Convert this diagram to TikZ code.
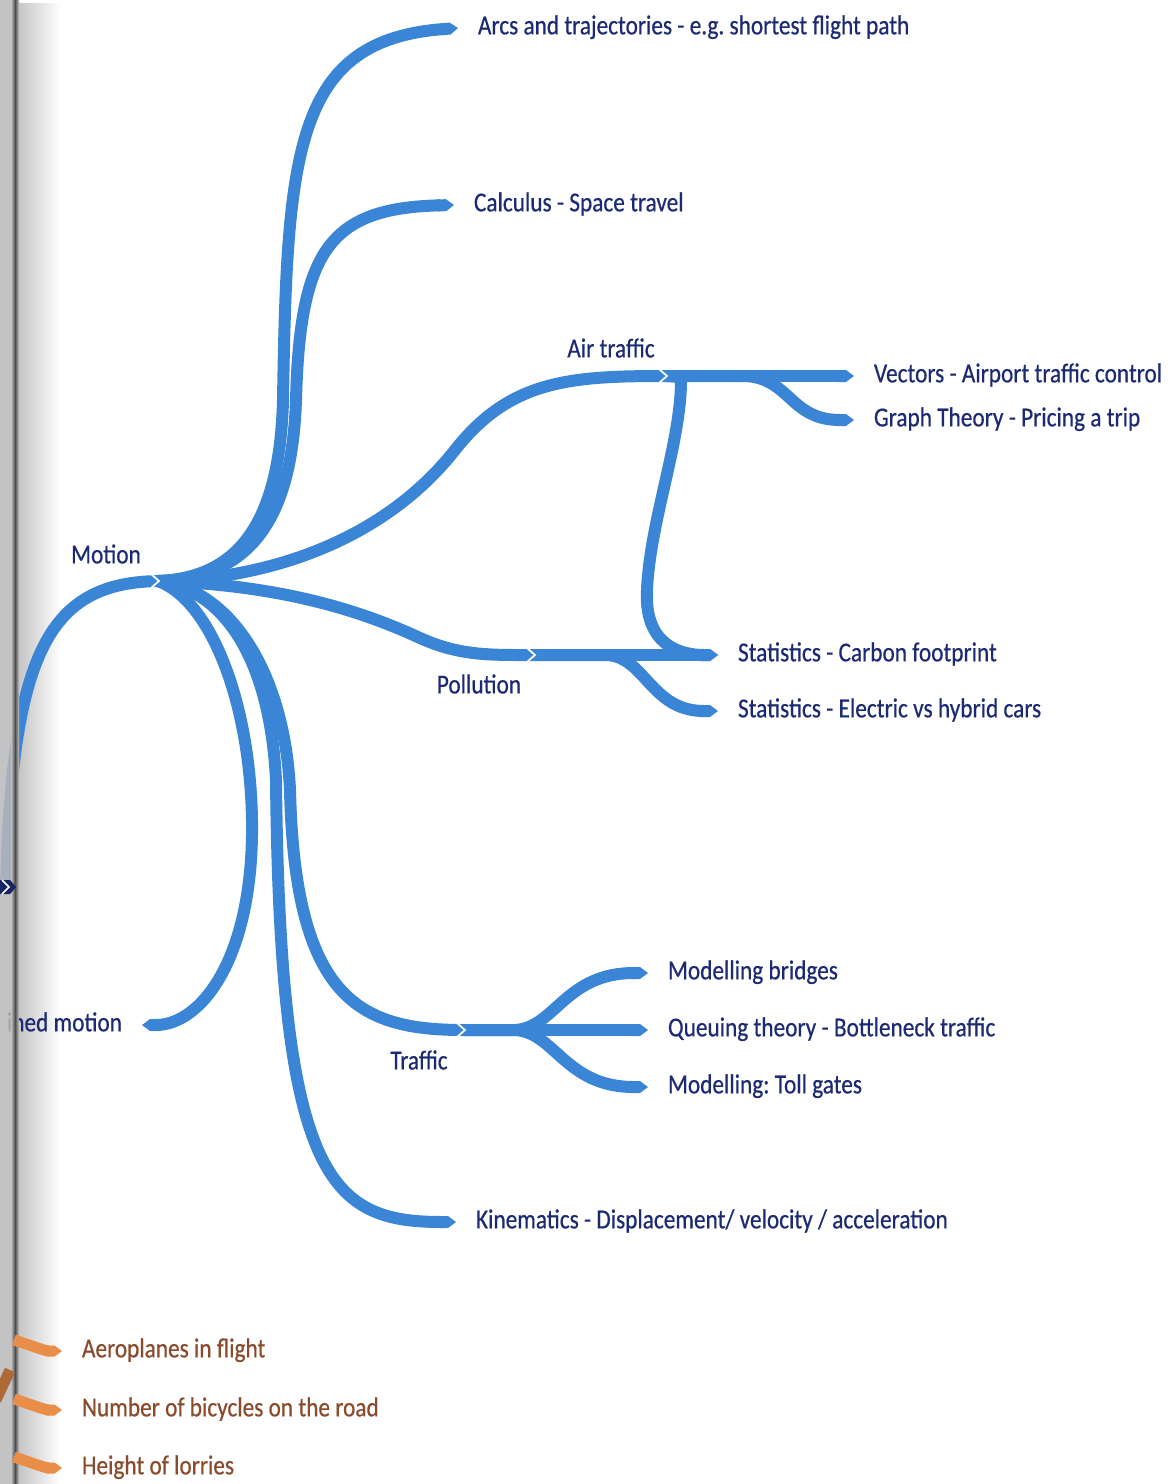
\documentclass[tikz,border=0pt]{standalone}
\usepackage{fontspec}
\setmainfont{Carlito}[FakeStretch=0.85, FakeBold=0.5]
\usetikzlibrary{arrows.meta, fadings}
\definecolor{mapblue}{HTML}{3A85D6}
\definecolor{mapnavy}{HTML}{1C2A74}
\definecolor{maporange}{HTML}{E88E48}
\definecolor{mapbrown}{HTML}{8A4A2C}
\tikzfading[name=gutterfade, left color=transparent!0, right color=transparent!100]
\frenchspacing

\begin{document}
\begin{tikzpicture}[
  x=0.02cm, y=-0.02cm,
  stem/.style={
    draw=mapblue, line width=0.24cm, -{Triangle Cap[length=0.16cm]}
  },
  ostem/.style={
    draw=maporange, line width=0.22cm, -{Triangle Cap[length=0.15cm]}
  },
  notch/.style={draw=white, line width=0.035cm},
  leaf/.style={
    anchor=west, inner sep=0pt, outer xsep=0.4cm, text=mapnavy,
    font=\fontsize{15.6}{18}\selectfont, execute at begin node=\strut
  },
  hub/.style={inner sep=0pt, text=mapnavy, font=\fontsize{15.6}{18}\selectfont},
  oleaf/.style={leaf, text=mapbrown}
]
\useasboundingbox (0,0) rectangle (1168,1484);
\fill[white] (0,0) rectangle (1168,1484);

% Gutter shadow, soft part
\fill[gray!45, path fading=gutterfade] (19,0) rectangle (60,1484);

% Junctions
\coordinate (motionin) at (6,887);
\coordinate (m) at (158,581);
\coordinate (air) at (666,376);
\coordinate (airfork) at (745,376);
\coordinate (airdrop) at (681,377);
\coordinate (poll) at (534,655);
\coordinate (pollfork) at (605,655);
\coordinate (traf) at (464,1030);
\coordinate (trafork) at (515,1030);

% Labels
\node[hub] (motion) at (106,554) {Motion};
\node[hub] (airlbl) at (611,348) {Air traffic};
\node[hub] (polllbl) at (479,684) {Pollution};
\node[hub] (traflbl) at (419,1060) {Traffic};

\node[leaf] (arcs) at (458,28) {Arcs and trajectories - e.g. shortest flight path};
\node[leaf] (calc) at (454,205) {Calculus - Space travel};
\node[leaf] (vect) at (854,376) {Vectors - Airport traffic control};
\node[leaf] (graph) at (854,420) {Graph Theory - Pricing a trip};
\node[leaf] (carb) at (718,655) {Statistics - Carbon footprint};
\node[leaf] (elec) at (718,711) {Statistics - Electric vs hybrid cars};
\node[leaf] (bridg) at (648,973) {Modelling bridges};
\node[leaf] (queu) at (648,1030) {Queuing theory - Bottleneck traffic};
\node[leaf] (toll) at (648,1087) {Modelling: Toll gates};
\node[leaf] (kin) at (456,1222) {Kinematics - Displacement/ velocity / acceleration};
\node[leaf, anchor=east] (conf) at (142,1025) {ined motion};

\node[oleaf] (aero) at (62,1351) {Aeroplanes in flight};
\node[oleaf] (bike) at (62,1410) {Number of bicycles on the road};
\node[oleaf] (lorry) at (62,1468) {Height of lorries};

% Branches out of Motion
\draw[stem] (m) .. controls (240,578) and (280,520) .. (283,400)
  .. controls (287,150) and (295,40) .. (arcs.west);
\draw[stem] (m) .. controls (250,578) and (292,520) .. (296,400)
  .. controls (300,250) and (330,208) .. (calc.west);
\draw[stem] (m) .. controls (210,600) and (250,700) .. (252,820)
  .. controls (254,960) and (200,1025) .. (conf.east);
\draw[stem] (m) .. controls (225,590) and (270,660) .. (276,780)
  .. controls (280,1180) and (330,1222) .. (kin.west);
\draw[stem, -] (m) .. controls (260,580) and (380,545) .. (455,450)
  .. controls (510,380) and (570,376) .. (air);
\draw[stem, -] (m) .. controls (290,585) and (370,615) .. (420,638)
  .. controls (460,656) and (490,655) .. (poll);
\draw[stem, -] (m) .. controls (235,590) and (285,680) .. (290,790)
  .. controls (295,1000) and (360,1030) .. (traf);

% Air traffic
\draw[stem] (air) -- (vect.west);
\draw[stem] (air) -- (airfork) .. controls (790,378) and (790,420) .. (graph.west);
\draw[stem] (air) -- (airdrop) .. controls (682,440) and (650,520) .. (647,590)
  .. controls (644,645) and (680,655) .. (carb.west);

% Pollution
\draw[stem] (poll) -- (carb.west);
\draw[stem] (poll) -- (pollfork) .. controls (645,655) and (650,711) .. (elec.west);

% Traffic
\draw[stem] (traf) -- (trafork) .. controls (555,1028) and (565,973) .. (bridg.west);
\draw[stem] (traf) -- (queu.west);
\draw[stem] (traf) -- (trafork) .. controls (555,1032) and (565,1087) .. (toll.west);

% Motion comes in from the facing page
\draw[stem, -] (motionin) .. controls (12,650) and (50,583) .. (m);

% Notches where the strands meet
\foreach \j in {m, air, poll, traf}
  \draw[notch] (\j) ++(-7,-7) -- ++(8,7) -- ++(-8,7);

% Gutter shadow, hard part
\fill[gray!55, opacity=0.85] (0,0) rectangle (13,1484);
\shade[left color=gray!50, right color=black!70] (11,0) rectangle (15,1484);
\shade[left color=black!70, right color=gray!45] (15,0) rectangle (19,1484);
\fill[mapnavy!85!black] (0,880) -- (10,880) -- (16,887) -- (10,894) -- (0,894) -- cycle;
\draw[notch] (motionin) ++(-4,-7) -- ++(7,7) -- ++(-7,7);

% Orange leaves from the facing page
\draw[ostem, draw=maporange!75!black, -] (-4,1400) -- (10,1370);
\draw[ostem] (14,1340) .. controls (30,1345) and (45,1351) .. (aero.west);
\draw[ostem] (14,1399) .. controls (30,1404) and (45,1410) .. (bike.west);
\draw[ostem] (14,1457) .. controls (30,1462) and (45,1468) .. (lorry.west);

\end{tikzpicture}
\end{document}
